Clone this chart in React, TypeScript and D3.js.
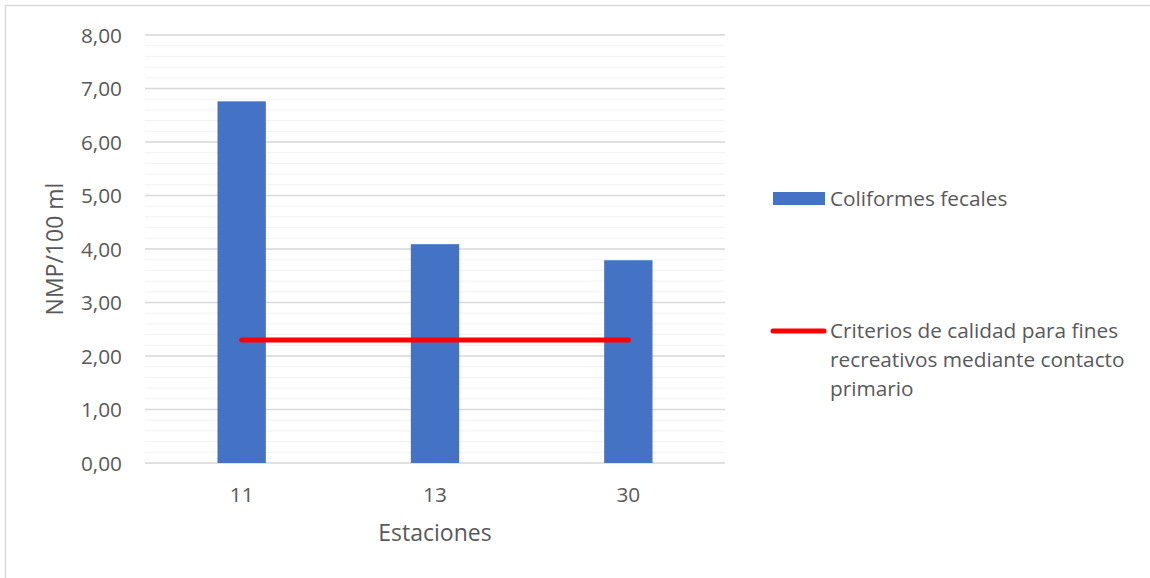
import React from "react";
import * as d3 from "d3";

const categories = ["11", "13", "30"];
const coliformes = [6.76, 4.09, 3.79];
const criterio = [2.3, 2.3, 2.3];
const yTicks = [0, 1, 2, 3, 4, 5, 6, 7, 8];
const minorTicks = d3.range(0, 8.0001, 0.2);
const seriesNames = ["Coliformes fecales", "Criterios de calidad para fines", "recreativos mediante contacto", "primario"];

const W = 1150, H = 578;
const left = 145, right = 725, top = 35, bottom = 463;
const FONT = "'Open Sans', Lato, sans-serif";
const TXT = "#595959";
const FS = 20.8;
const FT = 23;

export default function App() {
  const x = d3.scaleBand().domain(categories).range([left, right]).paddingInner(0.75).paddingOuter(0.375);
  const y = d3.scaleLinear().domain([0, 8]).range([bottom, top]);
  const fmt = (v: number) => v.toFixed(2).replace(".", ",");
  const line = d3.line<number>()
    .x((_, i) => (x(categories[i]) as number) + x.bandwidth() / 2)
    .y((d) => y(d));

  return (
    <svg width={W} height={H} style={{ position: "absolute", left: 0, top: 0, background: "#fff" }} fontFamily={FONT}>
      <rect x={5.5} y={5.5} width={W + 20} height={H + 20} fill="#fff" stroke="#d9d9d9" strokeWidth={1.5} />
      {minorTicks.map((t, i) => (
        <line key={"m" + i} x1={left} x2={right} y1={y(t)} y2={y(t)} stroke="#f2f2f2" strokeWidth={1} />
      ))}
      {yTicks.map((t) => (
        <line key={"g" + t} x1={left} x2={right} y1={y(t)} y2={y(t)} stroke="#d9d9d9" strokeWidth={1.3} />
      ))}
      {yTicks.map((t) => (
        <text key={"t" + t} x={122} y={y(t) + 7.5} textAnchor="end" fontSize={FS} fill={TXT}>{fmt(t)}</text>
      ))}
      {categories.map((c, i) => (
        <rect key={"b" + c} x={x(c)} y={y(coliformes[i])} width={x.bandwidth()} height={y(0) - y(coliformes[i])} fill="#4472c4" />
      ))}
      <path d={line(criterio) || ""} fill="none" stroke="#ff0000" strokeWidth={5} strokeLinecap="round" />
      {categories.map((c) => (
        <text key={"x" + c} x={(x(c) as number) + x.bandwidth() / 2} y={502} textAnchor="middle" fontSize={FS} fill={TXT}>{c}</text>
      ))}
      <text x={435} y={541} textAnchor="middle" fontSize={FT} fill={TXT}>Estaciones</text>
      <text transform="translate(63,249) rotate(-90)" textAnchor="middle" fontSize={FT} fill={TXT}>NMP/100 ml</text>
      <rect x={773} y={192} width={52} height={13} fill="#4472c4" />
      <text x={830} y={206} fontSize={FS} fill={TXT}>{seriesNames[0]}</text>
      <line x1={773} x2={824} y1={331} y2={331} stroke="#ff0000" strokeWidth={5} strokeLinecap="round" />
      <text x={830} y={338} fontSize={FS} fill={TXT}>{seriesNames[1]}</text>
      <text x={830} y={367} fontSize={FS} fill={TXT}>{seriesNames[2]}</text>
      <text x={830} y={396} fontSize={FS} fill={TXT}>{seriesNames[3]}</text>
    </svg>
  );
}
